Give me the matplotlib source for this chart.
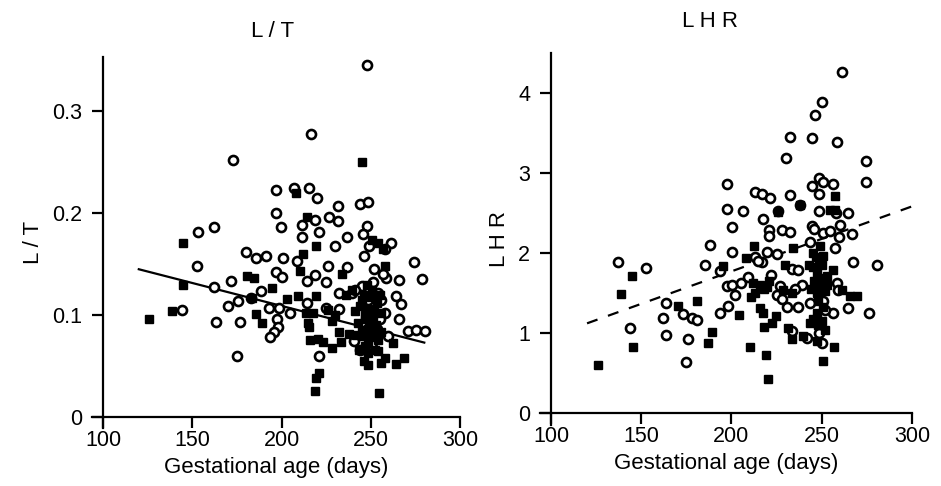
import matplotlib
matplotlib.use("Agg")
import matplotlib.pyplot as plt

plt.rcParams['font.family'] = ['Liberation Sans', 'DejaVu Sans']

# L/T panel: open circles and filled squares (gestational age in days, ratio)
lt_open_x = [247.8, 216.7, 172.9, 197, 206.9, 215.3, 219.7, 243.8, 248.2, 231.7,
             197, 162.3, 153.3, 199.6, 211.5, 218.9, 226.4, 231.7, 248, 220.9,
             211.5, 236.6, 245.6, 180.2, 185.5, 191.4, 201.1, 229.9, 261.2, 246.2,
             152.6, 274, 257.9, 197, 200.1, 208.4, 225.8, 236.8, 219, 278.9,
             266.1, 171.4, 162.3, 224.9, 214.3, 258.8, 232.3, 188.3, 264.3, 267,
             170, 175.5, 182.8, 192.8, 198.3, 204.8, 214.3, 224.9, 232.3, 258,
             144, 163.5, 176.5, 197.4, 197.8, 196, 193.4, 266.1, 270.7, 275.3,
             280.4, 259.5, 240.5, 221, 174.9, 244.1, 251.5, 254.2, 248.7, 255.1,
             253.3, 247.8, 239.6, 245.1, 256, 250.5, 241.4, 252, 249, 257]
lt_open_y = [0.345, 0.278, 0.252, 0.223, 0.225, 0.225, 0.215, 0.209, 0.211, 0.207,
             0.2, 0.186, 0.182, 0.186, 0.188, 0.193, 0.196, 0.192, 0.187, 0.182,
             0.177, 0.177, 0.18, 0.162, 0.156, 0.158, 0.156, 0.168, 0.171, 0.158,
             0.148, 0.152, 0.165, 0.142, 0.137, 0.153, 0.148, 0.147, 0.139, 0.135,
             0.134, 0.133, 0.128, 0.132, 0.133, 0.136, 0.122, 0.124, 0.119, 0.111,
             0.109, 0.114, 0.117, 0.107, 0.107, 0.102, 0.112, 0.107, 0.106, 0.102,
             0.105, 0.093, 0.093, 0.096, 0.088, 0.083, 0.078, 0.096, 0.084, 0.085,
             0.084, 0.079, 0.075, 0.06, 0.06, 0.066, 0.132, 0.122, 0.115, 0.096,
             0.086, 0.079, 0.122, 0.129, 0.115, 0.073, 0.125, 0.145, 0.168, 0.14]
lt_fill_x = [125.6, 138.5, 144.7, 144.7, 208, 245, 214.3, 219.4, 212.1, 210.3,
             180.6, 184.6, 194.7, 185.5, 188.8, 183.2, 203.3, 209.4, 219.4, 213.9,
             217.6, 214.8, 215.2, 216.1, 220.3, 223.4, 228.5, 218.5, 219.4, 220.9,
             228.5, 232.2, 233.1, 237.7, 234.1, 241.4, 239.6, 246.4, 248.2, 254.6,
             256, 257.9, 264.3, 268.9, 262.3, 254.2, 247, 245.1, 248.7, 246.9,
             248.7, 245.1, 250.5, 253.3, 256, 248.7, 252.4, 250.5, 254.2, 256.9,
             257.9, 248.7, 252.4, 256, 243.2, 254.2, 246, 250, 244, 247, 251,
             253, 249, 245, 252, 248, 250, 243, 255, 247, 242, 236, 230, 226]
lt_fill_y = [0.096, 0.104, 0.171, 0.13, 0.22, 0.25, 0.196, 0.168, 0.16, 0.143,
             0.138, 0.136, 0.127, 0.101, 0.092, 0.117, 0.116, 0.119, 0.119, 0.102,
             0.102, 0.092, 0.088, 0.076, 0.077, 0.074, 0.068, 0.025, 0.038, 0.043,
             0.094, 0.083, 0.074, 0.081, 0.14, 0.104, 0.125, 0.055, 0.051, 0.024,
             0.053, 0.058, 0.052, 0.058, 0.073, 0.065, 0.066, 0.115, 0.106, 0.096,
             0.086, 0.079, 0.125, 0.112, 0.102, 0.073, 0.066, 0.174, 0.171, 0.165,
             0.148, 0.063, 0.083, 0.083, 0.066, 0.076, 0.12, 0.118, 0.109, 0.1,
             0.098, 0.09, 0.092, 0.085, 0.105, 0.13, 0.078, 0.092, 0.12, 0.07,
             0.08, 0.12, 0.1, 0.105]
fit_x = [120, 280]
lt_fit = [0.145, 0.073]

# LHR panel
lhr_open_x = [261.2, 250.1, 246.4, 232.5, 244.5, 258.4, 230.3, 274.7, 274.7, 197.4,
              248.8, 251, 244.5, 256.5, 232.5, 213.1, 216.8, 221.4, 248.8, 238.1,
              197.4, 206.7, 226.1, 248.3, 258.1, 264.5, 217.7, 200.6, 228, 232.5,
              220.6, 220.6, 244.5, 260.3, 266.7, 259.4, 251, 254.7, 188.2, 257.5,
              243.6, 200.6, 219.6, 225.1, 137.3, 152.5, 185.6, 193.7, 213.1, 216.8,
              233.4, 237.1, 267.6, 280.6, 197.4, 200.2, 205.6, 209.4, 239, 226.9,
              258.4, 259, 202, 163.8, 198.3, 193.7, 237.1, 230.7, 225.1, 264.9,
              256.5, 251.9, 243.6, 276, 162.3, 173.4, 178, 181.1, 143.8, 163.8,
              176.2, 174.9, 233.4, 241.8, 248.3, 250.1, 251, 215, 222, 228, 235, 246]
lhr_open_y = [4.26, 3.89, 3.72, 3.45, 3.43, 3.38, 3.19, 3.15, 2.88, 2.86,
              2.93, 2.88, 2.84, 2.86, 2.72, 2.76, 2.73, 2.68, 2.73, 2.6,
              2.55, 2.52, 2.52, 2.52, 2.5, 2.5, 2.42, 2.32, 2.28, 2.26,
              2.28, 2.21, 2.33, 2.35, 2.23, 2.2, 2.25, 2.27, 2.1, 2.06,
              2.13, 2.01, 2.01, 1.99, 1.89, 1.81, 1.85, 1.77, 1.95, 1.88,
              1.8, 1.79, 1.88, 1.85, 1.59, 1.6, 1.63, 1.7, 1.6, 1.59,
              1.63, 1.54, 1.47, 1.38, 1.34, 1.25, 1.33, 1.33, 1.48, 1.31,
              1.25, 1.29, 1.37, 1.25, 1.19, 1.24, 1.19, 1.16, 1.06, 0.98,
              0.92, 0.64, 1.03, 0.94, 1.0, 0.88, 1.4, 1.9, 1.72, 1.42, 1.55, 2.3]
lhr_fill_x = [126.2, 138.8, 144.9, 145.3, 170.6, 180.8, 187.2, 189.5, 195.6, 204.4,
              208.1, 212.6, 210.4, 219.3, 220.5, 218.3, 222.4, 224.8, 217.4, 215.9,
              213.1, 215.9, 219.6, 229.8, 234.4, 228.8, 233.4, 231.6, 233.4, 239.9,
              243.6, 247.3, 250.1, 251.9, 250.6, 257, 265.8, 269.5, 261.2, 256.5,
              252.8, 249.1, 247.3, 248.3, 245.5, 251, 249.1, 254.7, 257.5, 257.5,
              247.3, 247.3, 245.5, 251, 238.1, 226.1, 246, 248, 250, 244, 247,
              249, 252, 245, 248, 212, 218, 221, 211, 243, 253]
lhr_fill_y = [0.6, 1.49, 1.71, 0.83, 1.34, 1.4, 0.88, 1.01, 1.83, 1.23,
              1.93, 2.09, 0.83, 0.72, 0.42, 1.08, 1.13, 1.21, 1.25, 1.31,
              1.5, 1.6, 1.58, 1.85, 2.06, 1.54, 1.5, 1.06, 0.92, 0.96,
              1.13, 0.9, 1.15, 1.04, 0.65, 0.83, 1.46, 1.46, 1.54, 1.79,
              1.71, 1.58, 1.75, 1.88, 2.0, 1.96, 2.08, 2.54, 2.71, 2.54,
              1.5, 1.25, 1.17, 1.33, 2.6, 2.51, 1.65, 1.4, 1.85, 1.55, 1.95,
              1.68, 1.52, 1.82, 1.1, 1.62, 1.55, 1.65, 1.45, 1.85, 1.6]
lhr_fit_x = [120, 300]
lhr_fit = [1.12, 2.58]


def style_axes(ax, ylim, yticks, yticklabels):
    ax.set_xlim(94, 300)
    ax.set_ylim(*ylim)
    for s in ['top', 'right']:
        ax.spines[s].set_visible(False)
    ax.spines['left'].set_position(('data', 100))
    ax.spines['bottom'].set_position(('data', 0))
    for s in ['left', 'bottom']:
        ax.spines[s].set_linewidth(1.6)
    ax.set_xticks([100, 150, 200, 250, 300])
    ax.set_yticks(yticks)
    ax.set_yticklabels(yticklabels)
    ax.tick_params(direction='out', length=8, width=1.6, labelsize=15.5)
    ax.tick_params(axis='x', pad=1.5)
    ax.tick_params(axis='y', pad=7)
    ax.set_xlabel('Gestational age (days)', fontsize=16, labelpad=4)


def scatter_pts(ax, ox, oy, fx, fy):
    ax.plot(ox, oy, 'o', ms=6.5, mfc='white', mec='black', mew=1.9, zorder=3)
    ax.plot(fx, fy, 's', ms=5.6, color='black', zorder=3)


fig = plt.figure(figsize=(9.41, 4.86), dpi=100)

ax1 = fig.add_axes([0.0982, 0.119, 0.3906, 0.763])
ax1.plot(fit_x, lt_fit, '-', color='black', lw=1.6, zorder=2)
scatter_pts(ax1, lt_open_x, lt_open_y, lt_fill_x, lt_fill_y)
style_axes(ax1, (-0.011, 0.353), [0, 0.1, 0.2, 0.3], ['0', '0.1', '0.2', '0.3'])
ax1.set_ylabel('L / T', fontsize=16, labelpad=6)
fig.text(0.29, 0.935, 'L / T', ha='center', va='center', fontsize=16)

ax2 = fig.add_axes([0.574, 0.1255, 0.395, 0.766])
ax2.plot(lhr_fit_x, lhr_fit, '--', color='black', lw=1.6, dashes=(5, 5), zorder=2)
scatter_pts(ax2, lhr_open_x, lhr_open_y, lhr_fill_x, lhr_fill_y)
style_axes(ax2, (-0.15, 4.5), [0, 1, 2, 3, 4], ['0', '1', '2', '3', '4'])
ax2.set_ylabel('L H R', fontsize=16, labelpad=6)
fig.text(0.755, 0.955, 'L H R', ha='center', va='center', fontsize=16)

fig.savefig('out.png', dpi=100)
